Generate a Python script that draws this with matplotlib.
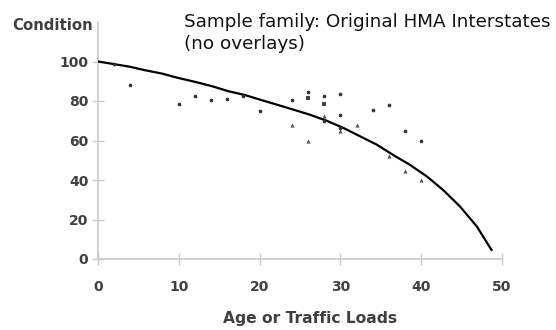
import matplotlib
matplotlib.use('Agg')
import matplotlib.pyplot as plt

dot_x = [2, 4, 10, 12, 14, 16, 18, 20, 24, 26, 28, 28, 30, 30, 30, 34, 36, 38, 40]
dot_y = [98.5, 88, 78.5, 82.5, 80.5, 81, 82.5, 74.8, 80.7, 84.6, 82.7, 70, 83.6, 72.8, 66.3, 75.3, 78.2, 65, 59.6]
sq_x = [26, 28]
sq_y = [81.6, 78.5]
tri_x = [24, 26, 28, 30, 32, 36, 38, 40]
tri_y = [68, 59.6, 72.2, 64.6, 68, 52, 44.8, 39.8]

# family curve
curve_x = [0, 2.1, 4, 5.8, 7.9, 9.9, 12, 14.1, 16.1, 18.2, 20.2, 22.1, 24.2, 26.2,
           28.3, 30.4, 32.4, 34.5, 36.6, 38.6, 40.7, 42.7, 44.8, 46.9, 48.7]
curve_y = [100, 98.6, 97.3, 95.6, 93.9, 91.7, 89.7, 87.5, 85, 83, 80.5, 78.2, 75.6, 73.1,
           70, 66.3, 62.2, 57.9, 52.5, 47.7, 41.8, 35, 26.6, 16.4, 4.6]

xticks = [0, 10, 20, 30, 40, 50]
yticks = [0, 20, 40, 60, 80, 100]

fig = plt.figure(figsize=(5.56, 3.3), dpi=100)
ax = fig.add_axes([98/556, 1-259/330, 404/556, 237/330])

ax.plot(curve_x, curve_y, c='k', lw=1.6, zorder=3)
ax.scatter(dot_x, dot_y, s=7, marker='o', c='#333333', lw=0, zorder=4)
ax.scatter(sq_x, sq_y, s=8, marker='s', c='#444444', lw=0, zorder=4)
ax.scatter(tri_x, tri_y, s=9, marker='^', c='#555555', lw=0, zorder=4)

ax.set_xlim(0, 50)
ax.set_ylim(0, 120)
ax.set_xticks(xticks)
ax.set_yticks(yticks)
for s in ['top', 'right']:
    ax.spines[s].set_visible(False)
for s in ['left', 'bottom']:
    ax.spines[s].set_color('#c8c8c8')
    ax.spines[s].set_linewidth(1.2)
ax.tick_params(axis='both', direction='inout', length=8, width=1, color='#c8c8c8',
               labelcolor='#404040', labelsize=10)
ax.tick_params(axis='x', pad=11)
ax.tick_params(axis='y', pad=3)
for lab in ax.get_xticklabels() + ax.get_yticklabels():
    lab.set_fontweight('bold')

fig.text(12/556, 1-26/330, 'Condition', fontsize=10.7, fontweight='bold',
         color='#404040', va='center', ha='left')
fig.text(223/556, 1-323/330, 'Age or Traffic Loads', fontsize=11.2, fontweight='bold',
         color='#404040', va='baseline', ha='left')
fig.text(184/556, 1-27/330, 'Sample family: Original HMA Interstates',
         fontsize=13.2, color='#111111', va='baseline', ha='left')
fig.text(184/556, 1-49/330, '(no overlays)',
         fontsize=13.2, color='#111111', va='baseline', ha='left')

fig.savefig('out.png', dpi=100)
